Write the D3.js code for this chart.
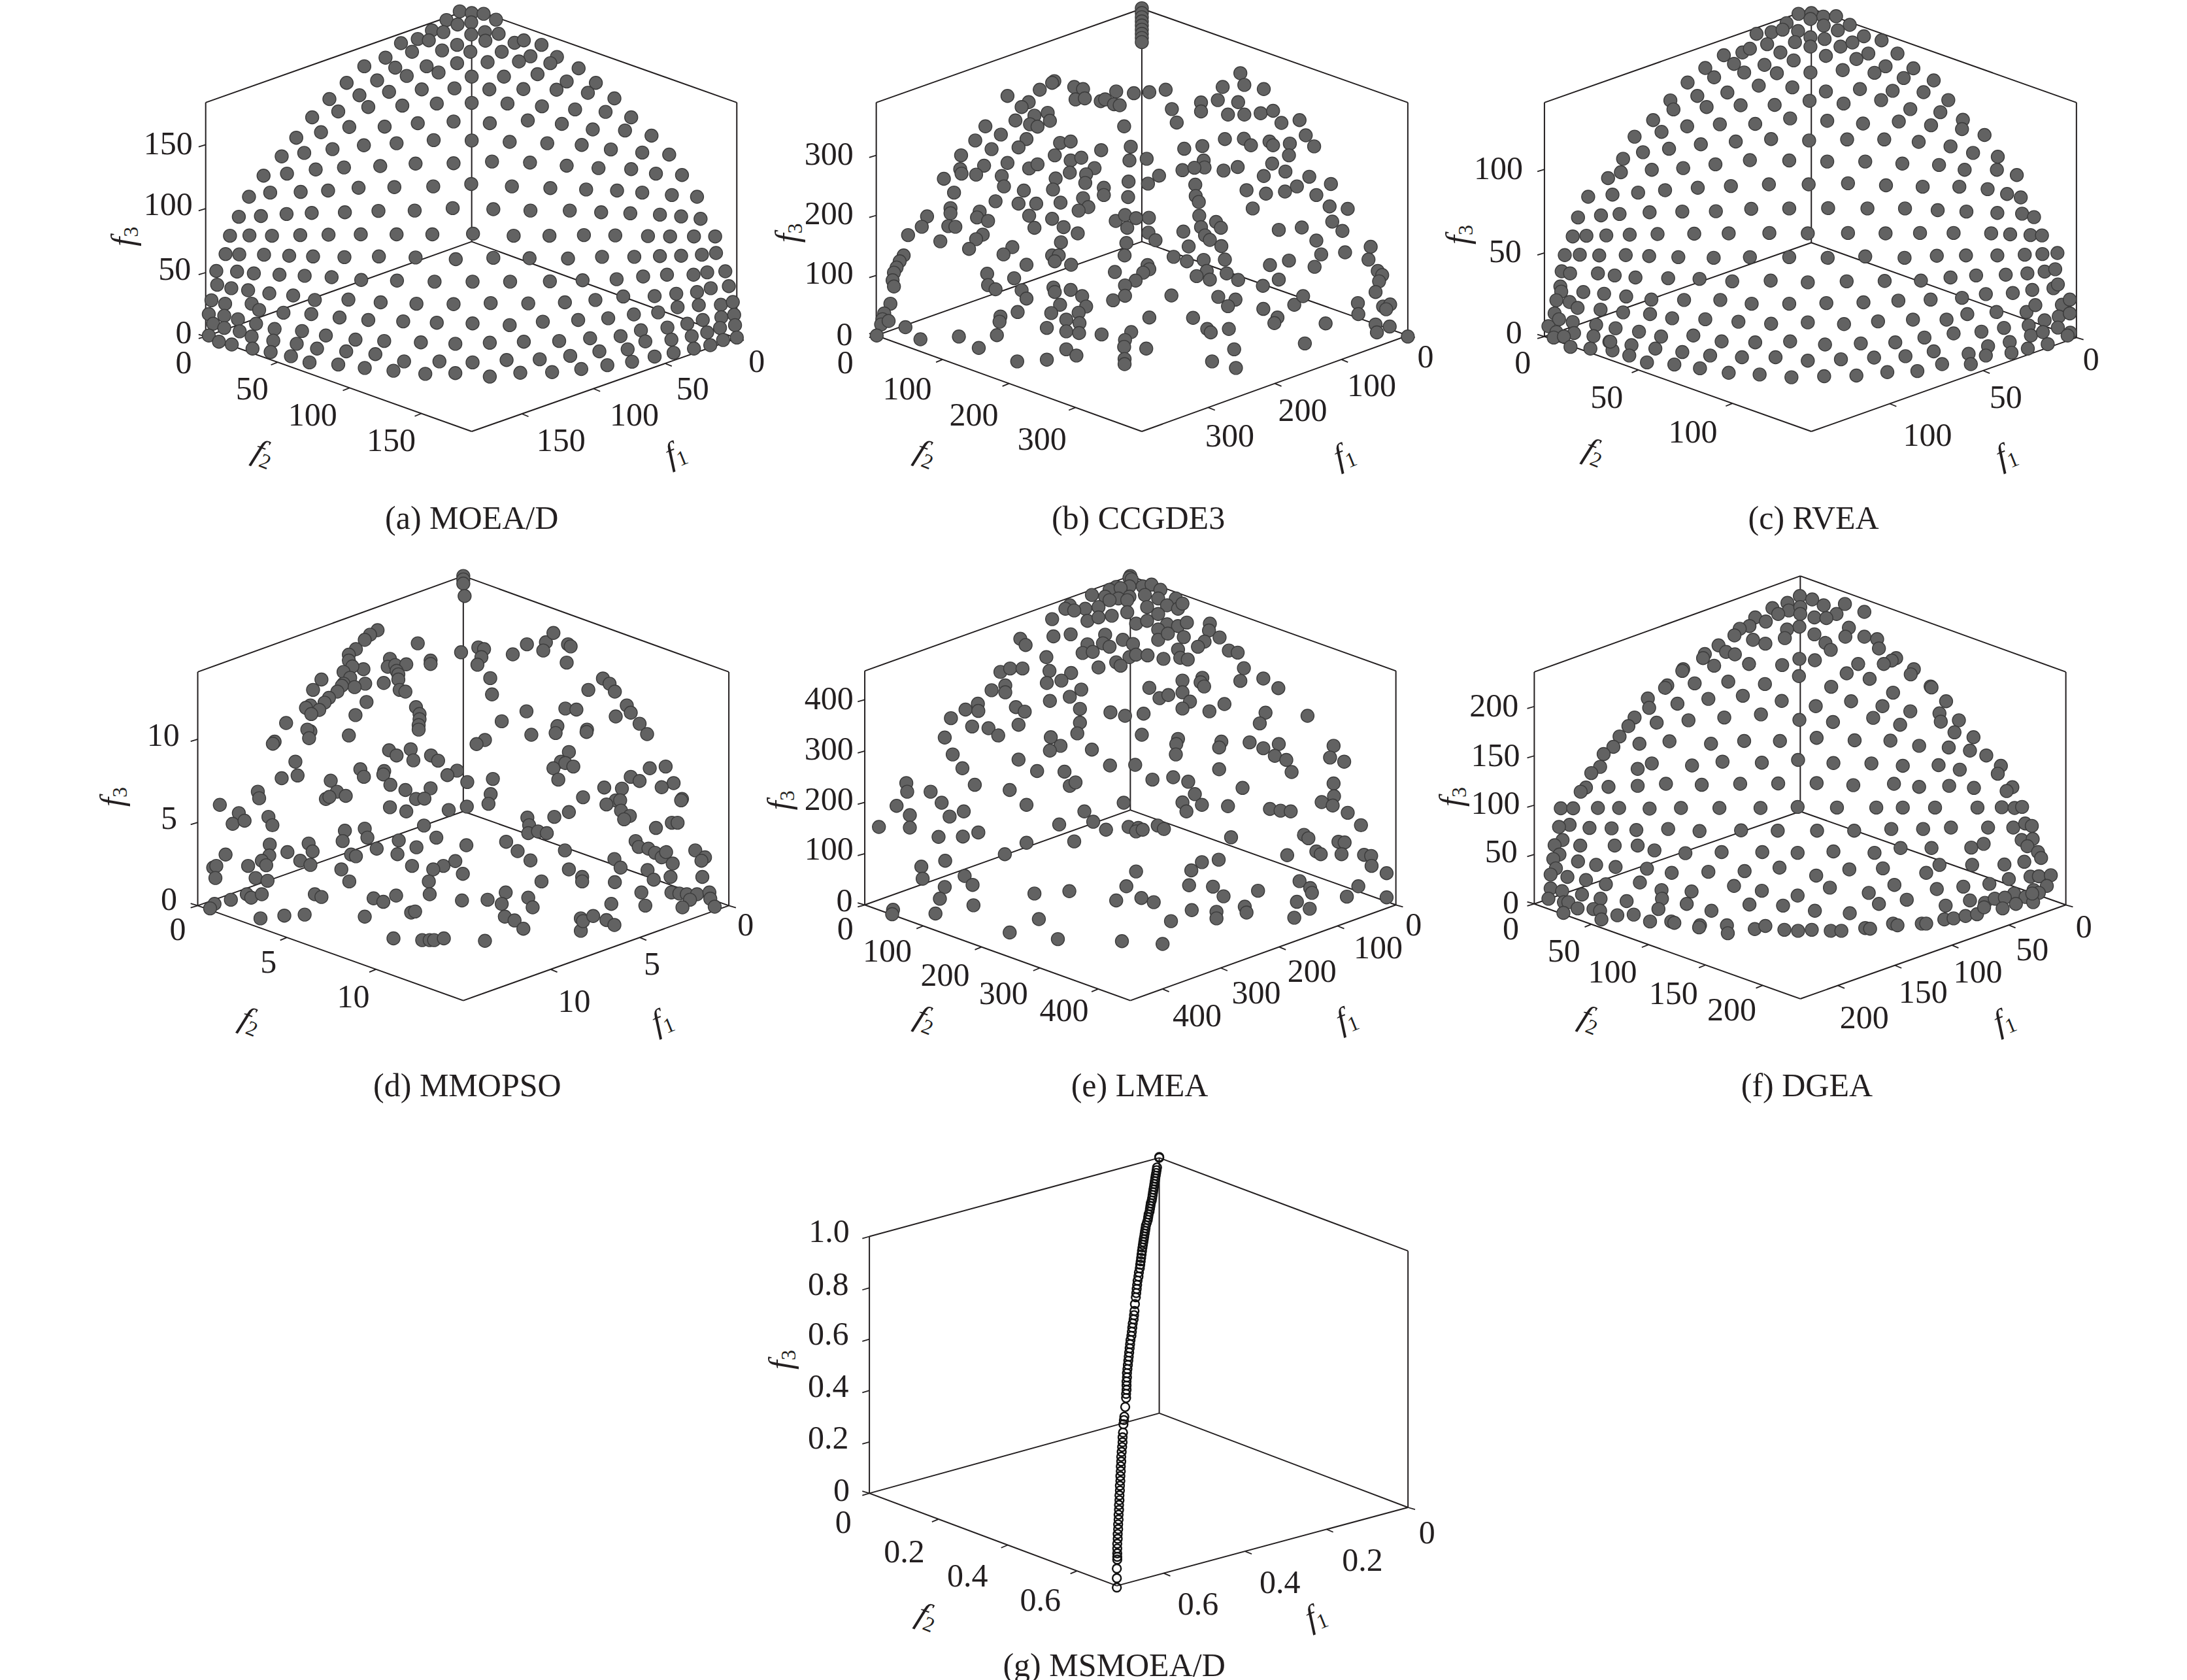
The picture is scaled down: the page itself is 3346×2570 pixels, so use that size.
<!DOCTYPE html>
<html><head><meta charset="utf-8">
<script src="https://cdn.jsdelivr.net/npm/d3@7/dist/d3.min.js"></script>
<style>html,body{margin:0;padding:0;background:#fff}svg{display:block}text{font-family:"Liberation Serif","Times New Roman",serif;fill:#231f20}</style>
</head><body><div id="chart"></div>
<script>
// Each series: flat list of (across, height) readings taken off the panel's viewing plane.
const moeadPoints=[863,33,890,38,917,40,833,58,858,71,889,65,945,57,800,88,826,93,889,100,920,93,951,98,730,125,768,113,793,117,921,118,987,124,1008,117,1048,130,755,150,823,146,857,130,887,150,958,150,1023,163,695,167,857,183,926,180,997,178,1083,165,1068,183,647,192,717,196,788,192,815,210,743,220,890,222,963,222,1039,215,1132,198,1105,236,607,240,676,233,703,266,777,259,851,256,930,259,1007,258,1082,260,1171,240,1153,269,568,287,636,276,656,310,733,306,811,300,890,298,971,300,1049,308,1124,317,1193,324,1213,285,529,340,588,323,613,368,693,367,768,357,849,352,931,357,1017,349,1094,359,1164,375,1237,378,1251,340,493,399,549,383,575,432,646,421,720,415,804,406,890,407,976,411,1061,415,1139,420,1205,433,1297,393,1276,442,1337,448,460,453,511,443,537,491,601,485,683,481,763,474,849,473,936,468,1022,471,1105,480,1177,487,1251,490,1307,503,1366,507,419,509,472,503,503,556,565,552,634,544,715,542,803,540,889,533,981,540,1068,545,1149,549,1219,552,1276,558,1343,565,1400,570,386,570,434,558,363,628,413,626,471,620,528,617,603,615,679,611,761,610,847,603,939,606,1023,610,1112,610,1183,615,1249,618,1316,622,1364,627,1408,634,343,683,387,682,438,683,502,681,566,680,639,679,720,679,801,679,893,677,985,683,1066,683,1144,681,1215,682,1289,684,1339,685,1393,685,1441,685,333,736,364,737,420,738,477,741,531,743,602,745,680,743,763,746,854,751,939,747,1021,748,1108,749,1185,744,1258,744,1316,742,1364,741,1411,738,1443,733,312,785,359,787,397,792,455,796,512,799,573,803,640,811,721,813,806,816,892,816,977,816,1067,815,1141,812,1218,809,1278,801,1332,796,1392,796,1423,789,1464,786,314,825,346,835,384,841,432,850,486,856,535,869,611,868,684,876,765,880,849,881,933,878,1018,879,1101,876,1170,869,1233,859,1304,858,1353,851,1400,846,1431,835,1472,829,301,870,332,880,392,880,409,898,464,906,527,910,591,920,656,927,735,931,811,935,892,937,976,942,1051,932,1131,927,1199,922,1257,911,1312,905,1356,890,1404,884,1454,883,1481,875,295,910,330,915,361,925,402,938,444,953,506,959,560,972,627,984,692,988,775,992,853,996,931,993,1008,990,1088,988,1158,980,1227,974,1273,957,1333,949,1378,938,1413,927,1455,919,1484,912,305,938,330,950,365,960,392,975,441,987,494,996,540,1010,606,1018,672,1026,737,1047,817,1047,892,1050,969,1043,1044,1041,1113,1031,1179,1018,1243,1012,1283,989,1342,984,1388,974,1423,963,1452,950,1486,942,295,972,318,990,347,998,394,1010,435,1020,481,1032,523,1050,588,1056,648,1066,713,1074,785,1083,853,1081,931,1091,1000,1080,1072,1078,1138,1069,1197,1058,1253,1048,1304,1033,1347,1022,1393,1010,1430,1000,1459,985,1490,978];
const ccgde3Points=[883,24,883,38,883,50,883,62,883,74,883,86,883,98,883,110,883,122,685,235,680,240,652,260,579,278,627,296,611,310,730,252,750,258,733,288,754,285,790,293,800,288,825,265,865,270,900,267,937,260,820,302,833,305,951,316,962,355,843,366,670,327,640,335,675,350,597,349,630,360,647,367,529,366,564,390,506,407,622,403,604,427,543,432,474,450,698,414,722,410,791,435,858,425,686,450,722,465,746,457,855,465,894,460,979,431,1020,423,1071,403,1114,402,1130,421,1172,410,1180,421,1218,416,1254,392,1273,424,1106,212,1115,246,1066,252,1159,258,1055,290,1101,296,1017,297,1017,323,1078,332,1115,332,1152,328,1180,321,1199,356,1240,348,1216,450,1178,474,1100,484,1068,494,1023,465,1025,485,975,493,1002,486,579,472,526,480,472,490,475,503,508,506,566,510,571,540,435,518,458,558,628,488,647,476,720,500,776,487,688,517,757,505,755,530,853,526,922,509,897,532,1208,497,1159,510,1262,512,1234,540,1207,555,1164,561,1120,551,1311,533,1278,565,1308,598,1349,605,1134,604,1004,535,1005,568,1012,585,1013,625,682,549,616,552,797,544,797,565,852,571,750,574,762,600,740,610,699,587,644,590,604,590,552,583,628,625,450,603,450,618,516,613,510,630,535,640,397,627,385,657,354,681,445,655,461,657,427,699,523,680,508,693,492,721,640,660,680,634,706,658,738,676,824,640,845,623,870,632,899,631,850,660,898,674,914,696,977,671,1017,658,1051,643,1062,660,1026,682,1037,695,1063,713,989,714,1193,666,1245,659,1314,642,1337,669,1278,697,1289,737,1343,731,1401,715,1396,752,1216,755,1173,768,1274,773,1417,785,1427,797,1420,815,1412,846,1193,810,1157,828,848,704,844,740,700,702,680,740,695,740,686,757,590,716,570,737,622,767,723,767,955,744,985,757,1023,753,1071,752,1030,785,1075,792,1007,800,1037,810,1101,811,896,768,900,780,886,790,869,813,845,827,822,788,533,793,535,826,552,838,594,806,611,841,622,865,683,833,686,846,722,840,748,858,757,888,740,906,698,883,678,907,602,904,563,917,561,932,712,926,742,936,668,950,712,960,741,965,555,971,469,975,382,983,348,948,514,1008,601,1047,668,1042,712,1012,735,1030,792,969,859,962,845,985,843,1005,893,1010,844,1040,844,1055,818,870,845,857,950,856,900,920,999,921,1031,953,1039,963,1080,953,1056,860,1095,868,1078,887,1158,895,1228,883,1248,858,1190,920,1183,936,1299,937,1372,878,1373,910,1429,888,1445,882,1436,896,1412,940,1415,963,1444,946,1485,975,1252,995,1092,1012,1042,1047,1096,1066,344,740,335,757,328,775,322,790,319,812,322,830,314,880,300,908,296,925,293,940,283,972,310,930];
const rveaPoints=[816,40,845,38,872,48,901,47,932,72,789,67,843,55,873,74,905,88,721,98,755,93,780,86,815,90,843,108,875,113,964,105,1004,117,745,128,808,122,843,135,911,135,938,123,974,155,1040,155,647,160,689,152,706,141,775,152,805,175,878,162,947,171,670,185,739,188,1013,192,1076,198,605,197,693,210,767,212,843,210,916,203,988,211,1054,226,625,224,565,239,726,248,802,253,878,265,955,258,1029,263,1122,233,1099,267,587,278,655,268,841,292,918,300,1003,290,1155,290,526,291,533,317,608,310,685,305,762,304,1069,316,1137,325,487,348,797,343,638,360,718,359,564,366,881,350,962,358,1043,352,1116,363,1188,347,1186,374,506,382,445,396,595,418,674,410,754,403,840,407,926,404,1010,404,1088,411,1160,424,1237,391,1211,443,464,441,523,431,628,476,706,464,795,465,881,468,967,468,1051,474,1134,478,1267,454,1192,492,1265,492,419,460,414,499,385,516,484,492,555,487,1310,507,588,544,663,539,749,534,839,534,928,531,1014,537,1097,541,1180,541,1244,548,1288,562,1319,572,453,558,514,551,395,564,340,570,553,613,629,612,709,605,795,604,883,603,972,604,1057,604,1131,609,1196,613,1266,617,1322,619,1349,629,317,630,369,624,411,620,479,615,305,685,336,683,381,682,434,680,497,678,580,677,658,676,750,675,837,676,928,675,1013,676,1091,675,1167,675,1252,676,1295,679,1341,681,1367,682,287,739,321,738,365,740,425,739,478,742,544,745,624,747,706,745,795,745,882,747,967,743,1056,747,1129,741,1195,740,1266,740,1328,738,1368,736,1402,733,280,786,299,792,362,792,400,798,447,804,521,806,592,808,666,815,753,813,837,818,925,815,1011,814,1093,813,1160,804,1218,798,1285,796,1334,792,1373,787,1397,780,277,830,279,845,329,846,376,851,426,859,483,868,557,869,639,869,710,880,795,880,879,878,963,876,1042,871,1115,868,1186,863,1240,852,1301,849,1345,840,1393,835,1403,824,268,870,298,875,316,892,368,897,419,905,480,910,530,922,605,925,680,932,754,938,837,934,919,939,996,931,1075,926,1151,926,1198,910,1264,904,1332,904,1352,884,1412,883,1430,868,264,908,274,925,305,933,358,941,402,951,455,961,505,975,578,972,642,989,718,992,797,989,876,998,957,995,1035,992,1101,978,1167,966,1230,961,1281,950,1337,943,1373,928,1405,917,1430,908,250,945,268,962,308,965,352,974,388,990,438,1000,492,1010,553,1020,616,1030,688,1035,764,1035,837,1045,912,1041,987,1036,1058,1032,1122,1018,1201,1025,1245,1003,1294,991,1342,972,1369,962,1403,949,1431,964,262,978,285,975,300,1005,345,1010,395,1015,390,990,433,1030,473,1050,535,1056,593,1067,658,1080,728,1085,800,1093,874,1090,947,1088,1017,1078,1085,1075,1141,1055,1206,1055,1240,1030,1298,1022,1335,1010,1380,997,1425,972];
const mmopsoPoints=[871,40,871,50,871,62,874,98,677,197,660,210,648,225,628,252,612,268,612,285,768,235,866,261,905,247,918,252,912,275,903,297,983,267,1015,238,1058,232,1052,256,1075,205,1108,238,1114,244,1105,291,705,280,700,303,717,298,742,296,797,285,797,295,720,315,724,325,724,340,691,350,649,352,645,310,620,302,600,318,615,335,600,352,625,362,596,358,586,375,567,393,557,407,550,340,531,370,525,415,515,422,545,428,527,440,652,405,627,443,470,466,612,502,525,490,518,485,522,510,444,520,440,526,727,370,740,375,764,420,772,440,772,455,770,472,770,485,932,336,936,383,1154,370,1187,337,1202,352,1214,375,1014,432,958,461,1102,424,1127,427,1241,415,1250,436,1216,447,1270,468,1287,498,1084,475,1080,495,1025,500,1151,485,1150,492,920,515,901,527,703,545,720,560,752,542,758,574,798,560,814,575,857,604,835,617,1110,550,1092,578,1102,582,1120,592,1075,597,1086,630,491,578,460,626,496,618,571,633,638,600,646,622,692,605,690,615,706,645,797,655,740,660,764,686,783,685,880,637,938,628,933,672,928,700,1293,597,1329,592,1250,622,1270,634,1190,653,1347,640,1320,652,1230,656,1366,686,1364,690,1142,681,1216,690,1226,690,1195,702,1228,720,1248,735,1235,745,406,665,409,684,320,703,363,727,349,758,376,749,430,738,439,762,585,665,605,677,560,686,568,680,705,710,742,722,838,718,879,708,1110,724,1077,738,1016,740,1020,762,1018,785,1040,780,1060,785,1343,755,1356,755,1307,770,782,763,603,778,598,808,648,772,654,798,725,806,810,798,521,815,530,838,433,818,432,850,333,847,473,840,675,830,765,826,722,846,617,847,628,852,878,820,968,810,994,837,1101,835,1023,864,1261,808,1268,825,1290,830,1305,842,1320,855,1330,840,1396,835,1418,855,1410,865,1345,873,415,865,425,878,384,880,502,865,525,877,853,866,826,880,803,890,755,880,595,890,305,885,312,880,310,915,401,915,428,923,870,903,793,925,1110,890,1213,860,1227,885,1288,892,1302,920,1340,912,1412,912,1214,927,1140,912,1140,925,1048,925,613,925,795,962,719,966,535,962,550,970,381,962,391,972,415,962,345,978,668,974,690,984,868,980,926,978,967,957,958,990,1018,972,1028,1000,1274,957,1342,957,1360,960,1377,962,1400,962,1428,957,1430,975,1384,978,1367,1000,1283,995,1206,990,308,990,298,1003,412,1032,466,1024,512,1021,648,1027,753,1015,762,1012,965,1027,987,1038,1007,1062,1137,1032,1137,1068,1142,1040,1165,1025,1195,1037,1213,1051,1440,998,713,1090,778,1095,795,1095,805,1095,827,1090,920,1097];
const lmeaPoints=[857,40,855,45,860,50,825,72,855,70,885,70,905,65,925,80,810,80,835,75,770,95,800,100,830,105,855,100,890,95,920,105,960,105,720,125,755,135,785,130,810,110,850,110,895,130,940,125,965,135,975,120,710,135,730,140,760,170,785,160,815,155,850,145,920,150,680,165,870,178,895,170,940,180,965,185,985,175,1037,178,1035,198,683,215,722,209,800,210,795,235,810,245,840,225,863,237,920,195,920,225,942,207,978,217,608,222,620,240,1025,230,1059,218,1010,245,760,238,749,263,772,260,855,275,825,290,835,300,870,268,896,270,932,280,965,253,970,277,987,282,1080,256,1100,262,667,275,785,305,1114,307,674,315,723,321,701,343,668,350,563,318,585,308,613,308,1020,335,975,343,1016,348,1024,360,1106,344,1158,337,1192,365,543,371,574,357,574,377,746,369,720,390,900,364,923,394,943,385,975,377,992,404,675,402,512,410,484,427,513,431,598,420,618,433,743,425,812,435,845,445,887,439,975,424,1036,432,1070,411,1163,436,1150,467,1258,445,451,452,499,476,536,481,558,502,604,471,743,465,737,496,883,500,437,508,677,507,699,532,675,546,770,543,965,512,961,527,960,557,1063,520,1058,537,1127,522,1158,539,1193,527,1184,561,1210,573,1317,532,1309,566,1341,578,455,557,604,572,477,597,646,605,708,607,811,589,868,587,1058,600,1222,608,505,645,720,648,733,638,907,630,954,623,988,636,1111,654,1317,641,350,640,352,665,405,665,584,660,1003,672,1318,678,430,697,328,706,622,703,842,697,975,696,1019,703,1078,707,1173,715,1197,720,1220,722,1290,695,1315,705,984,722,480,722,358,733,448,737,753,722,1349,726,288,767,358,769,696,760,773,752,802,775,853,767,875,770,870,780,885,775,919,763,933,773,1379,762,513,783,423,796,478,795,1085,797,1250,790,1260,800,622,813,730,809,1328,810,1342,812,573,846,1278,838,1288,846,1335,846,1212,849,1386,848,1402,851,438,865,384,882,1019,869,1057,862,995,893,870,896,1403,880,387,917,482,909,1437,901,500,935,437,941,848,939,640,960,719,953,990,936,1044,940,1146,952,1240,924,1264,944,1268,958,1373,939,426,975,825,980,882,973,910,985,1068,968,1234,984,1347,969,1437,971,502,994,320,1007,318,1020,416,1018,996,1008,1052,1013,1116,998,1120,1015,1263,1004,650,1034,949,1040,1052,1032,1228,1030,584,1073,693,1092,838,1098,930,1106];
const dgeaPoints=[819,98,847,108,791,118,873,125,921,121,965,144,757,133,794,140,820,130,820,150,770,150,902,150,852,160,879,162,718,160,742,172,705,185,818,187,790,195,683,193,930,190,671,212,785,220,852,209,922,216,965,216,994,223,713,225,741,236,877,234,998,250,889,254,635,241,652,260,672,267,604,266,600,278,818,280,853,284,1037,278,1027,285,951,295,1009,295,625,300,704,295,779,298,555,310,553,315,925,322,1077,310,1070,325,817,330,977,338,519,357,514,364,581,351,657,346,740,353,890,361,1115,360,1117,363,1030,378,475,395,478,422,542,410,612,396,690,387,778,402,935,403,1150,403,855,417,1006,417,445,450,431,475,495,465,567,458,648,450,731,441,1069,432,985,451,1135,438,1138,462,818,457,894,463,1179,458,1046,471,1169,493,411,505,397,535,456,526,524,519,618,526,693,518,774,518,857,509,943,516,1024,517,1212,507,1089,532,1156,537,1204,546,375,556,367,593,484,583,452,599,575,589,644,578,733,581,815,573,895,582,981,583,1052,590,1133,588,1241,560,1181,601,1274,590,1267,613,347,611,335,653,323,665,386,651,452,648,516,642,597,645,684,642,770,641,857,640,940,646,1032,642,1089,651,1157,648,1213,654,1300,652,1287,663,278,713,306,713,362,712,410,712,479,714,550,712,637,712,730,712,814,709,903,711,992,711,1052,711,1125,711,1221,711,1276,710,1305,712,1322,709,298,761,274,767,343,770,393,771,449,776,521,773,592,779,686,777,769,778,858,778,942,778,1026,773,1098,773,1161,769,1245,769,1302,769,1329,757,1344,764,282,805,264,820,322,821,400,821,452,821,490,835,560,843,642,840,734,840,814,842,895,838,988,842,1047,828,1117,828,1207,827,1235,816,1321,805,1346,802,1334,823,275,847,261,860,317,867,358,877,402,883,473,888,529,900,612,897,694,895,773,885,856,908,931,890,1007,887,1105,900,1135,877,1209,877,1282,876,1327,868,1358,840,1365,857,267,887,255,905,293,912,335,921,380,933,457,928,506,950,574,954,670,938,733,952,887,943,1033,935,1129,947,1189,940,1248,932,1292,918,1341,911,1360,910,1387,907,255,945,281,953,326,963,368,975,427,982,507,975,563,990,705,992,814,966,975,958,1061,978,1304,960,1348,950,1378,938,250,975,285,985,295,985,316,1003,352,1005,367,1010,499,1005,619,1010,781,995,853,1010,932,1017,998,990,1149,995,1204,980,1238,987,1260,975,1283,972,1330,970,1360,958,1347,985,284,1016,370,1035,406,1023,443,1021,480,1041,528,1041,535,1045,593,1052,591,1058,654,1052,656,1075,717,1063,741,1054,784,1065,815,1068,846,1065,889,1068,913,1068,967,1060,978,1062,1030,1047,1040,1052,1095,1047,1105,1047,1146,1035,1167,1032,1194,1025,1220,1020,1236,1000,1278,1003,1308,990,1345,960];
const msmoeadPoints=[952,40,952,38,947,68,946,76,945,84,944,92,943,100,942,108,941,116,940,124,939,132,938,140,937,148,936,156,935,164,933,172,932,180,931,188,930,196,928,204,927,212,926,220,924,228,922,236,921,244,920,252,919,260,918,268,917,276,916,284,915,292,914,300,913,310,912,320,911,330,910,340,909,350,908,360,906,372,905,384,903,396,902,408,901,420,900,432,899,444,897,464,896,484,895,496,894,508,892,520,891,532,890,544,889,556,887,568,886,580,885,592,884,604,883,616,882,628,881,640,880,652,879,664,879,676,878,688,878,700,878,712,877,724,877,736,875,762,873,790,872,800,871,812,870,836,869,850,869,864,868,878,867,892,866,906,866,920,865,934,865,948,864,962,864,976,863,990,863,1004,862,1018,862,1032,861,1046,861,1060,860,1074,860,1088,859,1102,859,1116,858,1130,858,1144,857,1158,857,1172,857,1186,857,1196,857,1204,856,1230,856,1258,856,1285];
const f3TicksA=[0,50,100,150], f2TicksA=[50,100,150], f1TicksA=[50,100,150];
const f3TicksB=[0,100,200,300], f2TicksB=[100,200,300], f1TicksB=[100,200,300];
const f3TicksC=[0,50,100], f2TicksC=[50,100], f1TicksC=[50,100];
const f3TicksD=[0,5,10], f2TicksD=[5,10], f1TicksD=[5,10];
const f3TicksE=[0,100,200,300,400], f2TicksE=[100,200,300,400], f1TicksE=[100,200,300,400];
const f3TicksF=[0,50,100,150,200], f2TicksF=[50,100,150,200], f1TicksF=[50,100,150,200];
const f3TicksG=[0,0.2,0.4,0.6,0.8,1.0], f2TicksG=[0.2,0.4,0.6], f1TicksG=[0.2,0.4,0.6];

const W=3346,H=2570,VW=1568,VH=1553,CW=1060,CH=820;
const svg=d3.select("#chart").append("svg").attr("width",W).attr("height",H).attr("viewBox",[0,0,W,H]);
svg.append("rect").attr("width",W).attr("height",H).attr("fill","#fff");
const FS=50;
const panels=[
{o:[120,0],pts:moeadPoints,cap:"(a) MOEA/D",capAt:[890,1500],B:[890,700],T:[890,25],TL:[288,297],TR:[1490,297],L:[288,975],R:[1490,980],F:[890,1250],max:[185,185,183],
 t3:f3TicksA,t2:f2TicksA,t1:f1TicksA,l3:[[238,962],[218,778],[203,590],[203,415]],l2:[[238,1050],[393,1125],[530,1200],[708,1275]],l1:[[1535,1045],[1390,1125],[1258,1200],[1092,1275]],n3:[100,685],n2:[420,1310],n1:[1350,1310]},
{o:[1150,0],pts:ccgde3Points,cap:"(b) CCGDE3",capAt:[875,1500],B:[883,700],T:[883,25],TL:[282,297],TR:[1485,297],L:[282,972],R:[1485,972],F:[883,1250],max:[400,400,388],
 t3:f3TicksB,t2:f2TicksB,t1:f1TicksB,l3:[[210,968],[175,790],[175,617],[175,445]],l2:[[212,1050],[352,1125],[503,1200],[657,1270]],l1:[[1525,1033],[1403,1115],[1247,1187],[1082,1262]],n3:[80,675],n2:[395,1310],n1:[1340,1315]},
{o:[2200,0],pts:rveaPoints,cap:"(c) RVEA",capAt:[850,1500],B:[845,703],T:[845,25],TL:[241,297],TR:[1445,297],L:[241,975],R:[1445,978],F:[845,1250],max:[142,142,140],
 t3:f3TicksC,t2:f2TicksC,t1:f1TicksC,l3:[[172,962],[152,727],[137,487]],l2:[[192,1050],[382,1150],[577,1250]],l1:[[1478,1040],[1285,1150],[1108,1260]],n3:[45,680],n2:[355,1305],n1:[1285,1315]},
{o:[120,860],pts:mmopsoPoints,cap:"(d) MMOPSO",capAt:[880,1515],B:[871,722],T:[871,40],TL:[270,318],TR:[1472,318],L:[270,995],R:[1472,995],F:[871,1270],max:[14.9,14.9,14.05],
 t3:f3TicksD,t2:f2TicksD,t1:f1TicksD,l3:[[205,975],[205,740],[192,500]],l2:[[225,1063],[430,1158],[622,1258]],l1:[[1510,1050],[1298,1163],[1122,1270]],n3:[75,680],n2:[390,1325],n1:[1320,1325]},
{o:[1150,860],pts:lmeaPoints,cap:"(e) LMEA",capAt:[878,1515],B:[857,718],T:[857,40],TL:[256,315],TR:[1458,315],L:[256,993],R:[1458,993],F:[857,1270],max:[455,455,456],
 t3:f3TicksE,t2:f2TicksE,t1:f1TicksE,l3:[[210,980],[175,830],[175,685],[175,540],[175,393]],l2:[[212,1060],[307,1125],[438,1195],[570,1248],[707,1297]],l1:[[1498,1050],[1418,1115],[1268,1183],[1142,1247],[1008,1313]],n3:[62,690],n2:[395,1320],n1:[1345,1320]},
{o:[2200,860],pts:dgeaPoints,cap:"(f) DGEA",capAt:[835,1515],B:[820,722],T:[820,40],TL:[218,318],TR:[1421,318],L:[218,990],R:[1421,993],F:[820,1265],max:[233,233,235],
 t3:f3TicksF,t2:f2TicksF,t1:f1TicksF,l3:[[165,985],[143,838],[130,697],[130,558],[127,415]],l2:[[165,1060],[285,1125],[395,1185],[533,1248],[665,1295]],l1:[[1462,1055],[1345,1122],[1222,1185],[1098,1245],[965,1318]],n3:[30,680],n2:[345,1320],n1:[1280,1325]},
{o:[1130,1750],pts:msmoeadPoints,open:true,cap:"(g) MSMOEA/D",capAt:[850,1510],B:[952,780],T:[952,40],TL:[296,268],TR:[1515,310],L:[296,1012],R:[1515,1053],F:[856,1280],max:[0.715,0.715,1.0],
 t3:f3TicksG,t2:f2TicksG,t1:f1TicksG,fmt:d=>d===0?"0":d.toFixed(1),l3:[[233,1002],[203,850],[203,700],[203,550],[203,405],[205,252]],l2:[[237,1095],[375,1180],[518,1250],[683,1320]],l1:[[1558,1125],[1412,1205],[1225,1268],[1040,1332]],n3:[95,625],n2:[428,1365],n1:[1305,1365]}
];
const INK="#231f20";
panels.forEach(p=>{
  const sx=d3.scaleLinear().domain([0,VW]).range([p.o[0],p.o[0]+CW]);
  const sy=d3.scaleLinear().domain([0,VH]).range([p.o[1],p.o[1]+CH]);
  const g=svg.append("g");
  const seg=(a,b,w=2)=>g.append("line").attr("x1",sx(a[0])).attr("y1",sy(a[1])).attr("x2",sx(b[0])).attr("y2",sy(b[1])).attr("stroke",INK).attr("stroke-width",w);
  [[p.L,p.TL],[p.R,p.TR],[p.TL,p.T],[p.TR,p.T],[p.B,p.T],[p.B,p.L],[p.B,p.R],[p.L,p.F],[p.R,p.F]].forEach(s=>seg(s[0],s[1]));
  // value scales along the three axis edges
  const z=d3.scaleLinear().domain([0,p.max[2]]).range([p.L[1],p.TL[1]]);
  const f2x=d3.scaleLinear().domain([0,p.max[1]]).range([p.L[0],p.F[0]]), f2y=d3.scaleLinear().domain([0,p.max[1]]).range([p.L[1],p.F[1]]);
  const f1x=d3.scaleLinear().domain([0,p.max[0]]).range([p.R[0],p.F[0]]), f1y=d3.scaleLinear().domain([0,p.max[0]]).range([p.R[1],p.F[1]]);
  p.t3.forEach(v=>seg([p.L[0],z(v)],[p.L[0]-16,z(v)+6],1.8));
  p.t2.forEach(v=>seg([f2x(v),f2y(v)],[f2x(v)-15,f2y(v)+8],1.8));
  p.t1.forEach(v=>seg([f1x(v),f1y(v)],[f1x(v)+15,f1y(v)+8],1.8));
  seg(p.L,[p.L[0]-16,p.L[1]-6],1.8); seg(p.R,[p.R[0]+16,p.R[1]+6],1.8);
  const fmt=p.fmt||(d=>String(d));
  const label=(txt,at)=>g.append("text").attr("x",sx(at[0])).attr("y",sy(at[1])).attr("text-anchor","middle").attr("dominant-baseline","central").attr("font-size",FS).text(txt);
  p.t3.forEach((v,i)=>label(fmt(v),p.l3[i]));
  [0].concat(p.t2).forEach((v,i)=>label(fmt(v),p.l2[i]));
  [0].concat(p.t1).forEach((v,i)=>label(fmt(v),p.l1[i]));
  label(p.cap,p.capAt);
  const axisName=(at,sub,rot,italic)=>{
    const t=g.append("text").attr("transform",`translate(${sx(at[0])},${sy(at[1])}) rotate(${rot})`).attr("text-anchor","middle").attr("dominant-baseline","central").attr("font-size",FS);
    t.append("tspan").attr("font-style",italic?"italic":"normal").text("f");
    t.append("tspan").attr("font-size",32).attr("dy",12).text(sub);
  };
  axisName(p.n3,"3",-90,true); axisName(p.n2,"2",22,true); axisName(p.n1,"1",-22,true);
  const pts=d3.range(0,p.pts.length,2).map(i=>[p.pts[i],p.pts[i+1]]);
  g.append("g").selectAll("circle").data(pts).join("circle")
    .attr("cx",d=>sx(d[0])).attr("cy",d=>sy(d[1]))
    .attr("r",p.open?6.5:10)
    .attr("fill",p.open?"none":"#626262")
    .attr("stroke",p.open?"#111":"#3c3c3c")
    .attr("stroke-width",p.open?2.4:1.4);
});
</script></body></html>
